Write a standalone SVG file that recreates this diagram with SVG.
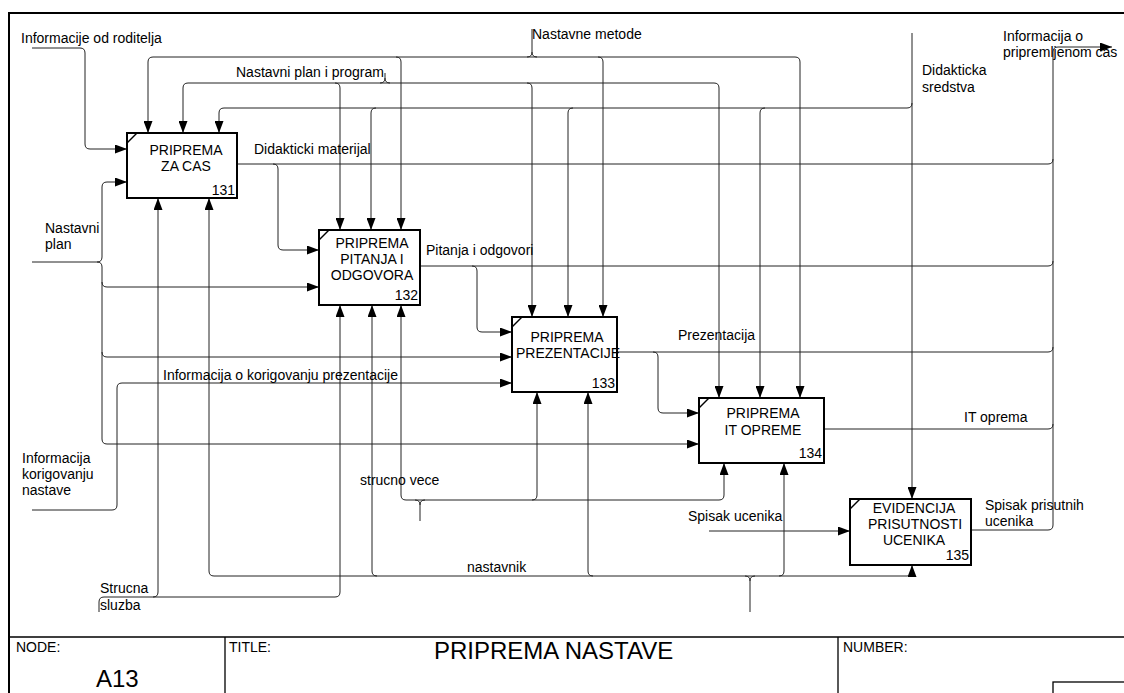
<svg xmlns="http://www.w3.org/2000/svg" width="1124" height="693" viewBox="0 0 1124 693">
<defs>
<marker id="ah" viewBox="0 0 12 9" refX="12" refY="4.5" markerWidth="12" markerHeight="9" markerUnits="userSpaceOnUse" orient="auto"><path d="M0,0 L12,4.5 L0,9 z" fill="#000"/></marker>
<style>
text{font-family:"Liberation Sans",Arial,sans-serif;font-size:14px;fill:#000}
.c{fill:none;stroke:#222;stroke-width:1}
.a{fill:none;stroke:#222;stroke-width:1;marker-end:url(#ah)}
.box{fill:#fff;stroke:#000;stroke-width:2}
.mid{text-anchor:middle}
.end{text-anchor:end}
.frame{fill:none;stroke:#000;stroke-width:2}
.tb{fill:none;stroke:#000;stroke-width:1.3}
</style>
</defs>
<rect width="1124" height="693" fill="#fff"/>
<g id="frame">
<path class="frame" d="M9,693 V13 H1124"/>
<path class="tb" d="M9,637 H1124 M225,637 V693 M838,637 V693"/>
<rect class="tb" x="1053" y="682" width="100" height="30"/>
<text x="16" y="652">NODE:</text>
<text x="229" y="652">TITLE:</text>
<text x="843" y="652">NUMBER:</text>
<text x="96" y="687" style="font-size:24px">A13</text>
<text x="434" y="659" style="font-size:24px">PRIPREMA NASTAVE</text>
</g>
<g id="connectors">
<!-- Informacije od roditelja -->
<path class="a" d="M32,48 H80 q5,0 5,5 V144 q0,5 5,5 H127"/>
<!-- Nastavne metode -->
<path class="c" d="M532,29 V52 q0,5 -5,5 M532,52 q0,5 5,5"/>
<path class="a" d="M532,57 H153 q-5,0 -5,5 V133"/>
<path class="a" d="M532,57 H795 q5,0 5,5 V398"/>
<path class="a" d="M396,57 q5,0 5,5 V230"/>
<path class="a" d="M598,57 q5,0 5,5 V317"/>
<!-- Nastavni plan i program -->
<path class="c" d="M385,73 V78 q0,5 -5,5 M385,78 q0,5 5,5"/>
<path class="a" d="M385,83 H188 q-5,0 -5,5 V133"/>
<path class="a" d="M385,83 H714 q5,0 5,5 V398"/>
<path class="a" d="M335,83 q5,0 5,5 V230"/>
<path class="a" d="M527,83 q5,0 5,5 V317"/>
<!-- Didakticka sredstva -->
<path class="a" d="M912,33 V499"/>
<path class="a" d="M912,103 q0,5 -5,5 H224 q-5,0 -5,5 V133"/>
<path class="a" d="M376,108 q-5,0 -5,5 V230"/>
<path class="a" d="M573,108 q-5,0 -5,5 V317"/>
<path class="a" d="M765,108 q-5,0 -5,5 V398"/>
<!-- Outputs -->
<path class="c" d="M237,164 H1048 q5,0 5,-5"/>
<path class="a" d="M273,164 q5,0 5,5 V245 q0,5 5,5 H319"/>
<path class="c" d="M420,266 H1048 q5,0 5,-5"/>
<path class="a" d="M472,266 q5,0 5,5 V327 q0,5 5,5 H512"/>
<path class="c" d="M617,352 H1048 q5,0 5,-5"/>
<path class="a" d="M653,352 q5,0 5,5 V408 q0,5 5,5 H699"/>
<path class="c" d="M824,429 H1048 q5,0 5,-5"/>
<path class="a" d="M971,530 H1048 q5,0 5,-5 V52 q0,-5 5,-5 H1112"/>
<!-- Nastavni plan -->
<path class="a" d="M32,262 H97 q5,0 5,-5 V187 q0,-5 5,-5 H127"/>
<path class="a" d="M97,262 q5,0 5,5 V439 q0,5 5,5 H699"/>
<path class="a" d="M102,282 q0,5 5,5 H319"/>
<path class="a" d="M102,352 q0,5 5,5 H512"/>
<!-- Informacija o korigovanju nastave -->
<path class="a" d="M32,510 H112 q5,0 5,-5 V388 q0,-5 5,-5 H512"/>
<!-- Strucna sluzba -->
<path class="a" d="M99,612 V602 q0,-5 5,-5 H335 q5,0 5,-5 V305"/>
<path class="a" d="M153,597 q5,0 5,-5 V198"/>
<!-- nastavnik -->
<path class="c" d="M750,612 V581 q0,-5 -5,-5 M750,581 q0,-5 5,-5"/>
<path class="a" d="M750,576 H214 q-5,0 -5,-5 V198"/>
<path class="a" d="M750,576 H907 q5,0 5,-5 V565"/>
<path class="a" d="M377,576 q-5,0 -5,-5 V305"/>
<path class="a" d="M593,576 q-5,0 -5,-5 V392"/>
<path class="a" d="M779,576 q5,0 5,-5 V463"/>
<!-- strucno vece -->
<path class="c" d="M420,521 V505 q0,-5 -5,-5 M420,505 q0,-5 5,-5"/>
<path class="a" d="M420,500 H406 q-5,0 -5,-5 V305"/>
<path class="a" d="M420,500 H719 q5,0 5,-5 V463"/>
<path class="a" d="M532,500 q5,0 5,-5 V392"/>
<!-- Spisak ucenika -->
<path class="a" d="M709,531 H850"/>
</g>
<g id="labels">
<text x="21" y="43">Informacije od roditelja</text>
<text x="236" y="77">Nastavni plan i program</text>
<text x="532" y="39">Nastavne metode</text>
<text x="922" y="75">Didakticka</text>
<text x="922" y="92">sredstva</text>
<text x="1003" y="41">Informacija o</text>
<text x="1003" y="57">pripremljenom cas</text>
<text x="254" y="154">Didakticki materijal</text>
<text x="45" y="233">Nastavni</text>
<text x="45" y="249">plan</text>
<text x="426" y="255">Pitanja i odgovori</text>
<text x="163" y="380">Informacija o korigovanju prezentacije</text>
<text x="678" y="340">Prezentacija</text>
<text x="964" y="422">IT oprema</text>
<text x="22" y="463">Informacija</text>
<text x="22" y="479">korigovanju</text>
<text x="22" y="495">nastave</text>
<text x="360" y="485">strucno vece</text>
<text x="688" y="521">Spisak ucenika</text>
<text x="985" y="510">Spisak prisutnih</text>
<text x="985" y="526">ucenika</text>
<text x="467" y="572">nastavnik</text>
<text x="100" y="593">Strucna</text>
<text x="100" y="610">sluzba</text>
</g>
<g id="n131">
<rect class="box" x="127" y="133" width="110" height="65"/>
<path class="c" d="M127,143 L137,133" style="stroke:#000;stroke-width:1.5"/>
<text class="mid" x="186" y="155">PRIPREMA</text>
<text class="mid" x="186" y="171">ZA CAS</text>
<text class="end" x="235" y="195">131</text>
</g>
<g id="n132">
<rect class="box" x="319" y="230" width="101" height="75"/>
<path class="c" d="M319,240 L329,230" style="stroke:#000;stroke-width:1.5"/>
<text class="mid" x="372" y="248">PRIPREMA</text>
<text class="mid" x="372" y="264">PITANJA I</text>
<text class="mid" x="372" y="280">ODGOVORA</text>
<text class="end" x="418" y="300">132</text>
</g>
<g id="n133">
<rect class="box" x="512" y="317" width="105" height="75"/>
<path class="c" d="M512,327 L522,317" style="stroke:#000;stroke-width:1.5"/>
<text class="mid" x="567" y="342">PRIPREMA</text>
<text class="mid" x="568" y="358">PREZENTACIJE</text>
<text class="end" x="615" y="388">133</text>
</g>
<g id="n134">
<rect class="box" x="699" y="398" width="125" height="65"/>
<path class="c" d="M699,408 L709,398" style="stroke:#000;stroke-width:1.5"/>
<text class="mid" x="763" y="418">PRIPREMA</text>
<text class="mid" x="763" y="435">IT OPREME</text>
<text class="end" x="822" y="458">134</text>
</g>
<g id="n135">
<rect class="box" x="850" y="499" width="121" height="66"/>
<path class="c" d="M850,509 L860,499" style="stroke:#000;stroke-width:1.5"/>
<text class="mid" x="914" y="513">EVIDENCIJA</text>
<text class="mid" x="915" y="529">PRISUTNOSTI</text>
<text class="mid" x="914" y="545">UCENIKA</text>
<text class="end" x="969" y="560">135</text>
</g>
</svg>
